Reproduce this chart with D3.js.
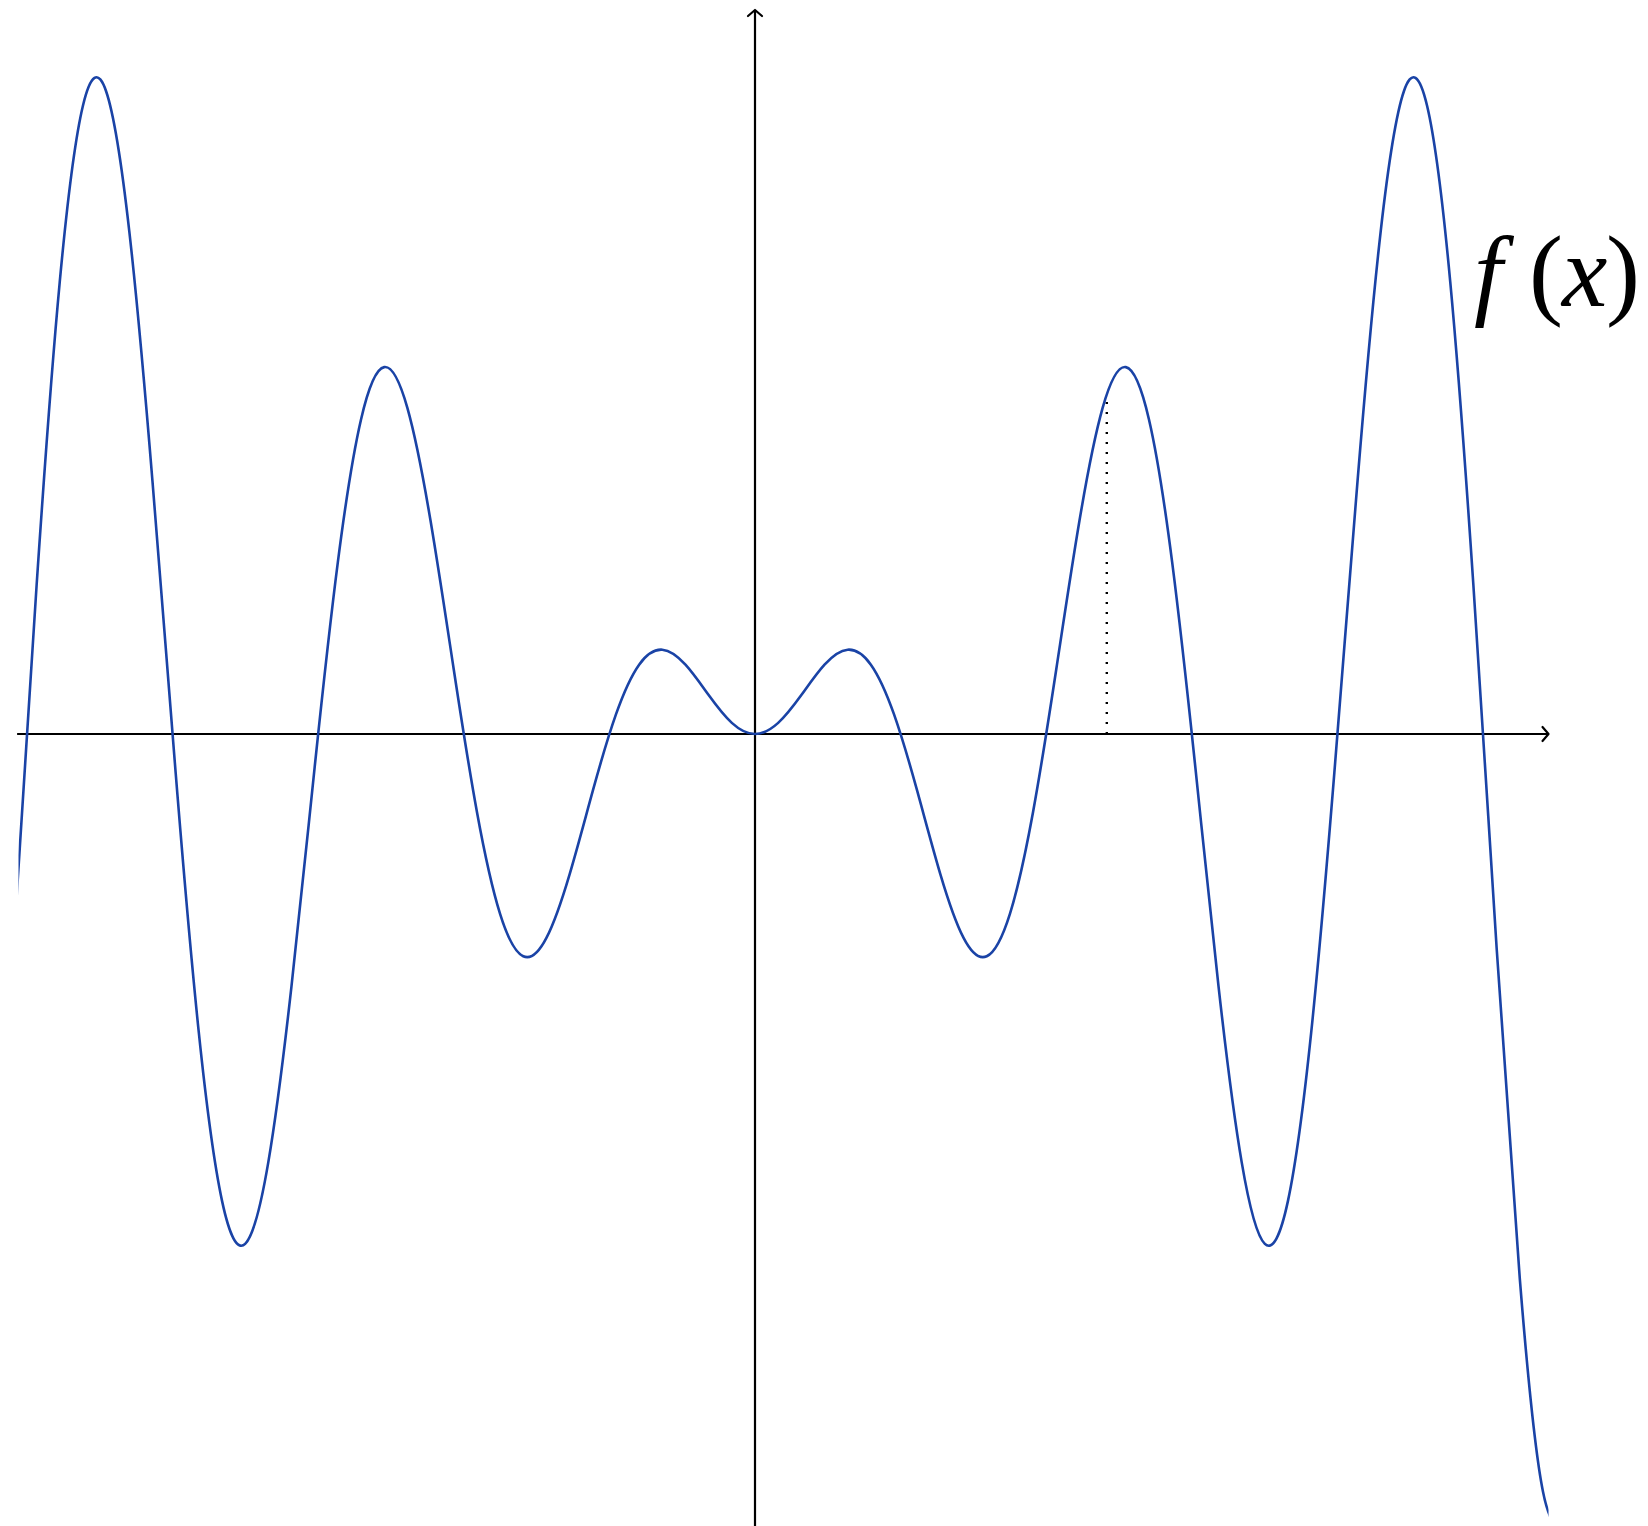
<!DOCTYPE html>
<html>
<head>
<meta charset="utf-8">
<script src="https://cdn.jsdelivr.net/npm/d3@7"></script>
<style>
  html, body { margin: 0; padding: 0; background: #fff; }
  svg { display: block; }
</style>
</head>
<body>
<div id="chart"></div>
<script>
// points (x, f(x)), every half unit
var xs = [-16, -15.5, -15, -14.5, -14, -13.5, -13, -12.5, -12, -11.5, -11, -10.5, -10, -9.5, -9, -8.5, -8, -7.5, -7, -6.5, -6, -5.5, -5, -4.5, -4, -3.5, -3, -2.5, -2, -1.5, -1, -0.5, 0,
          0.5, 1, 1.5, 2, 2.5, 3, 3.5, 4, 4.5, 5, 5.5, 6, 6.5, 7, 7.5, 8, 8.5, 9, 9.5, 10, 10.5, 11, 11.5, 12, 12.5, 13, 13.5, 14, 14.5, 15, 15.5, 16, 16.5, 17, 17.5];
var ys = [-4.606, 3.199, 9.754, 13.556, 13.868, 10.851, 5.463, -0.829, -6.439, -10.067, -11.0, -9.237, -5.44, -0.714, 3.709, 6.787, 7.915, 7.035, 4.599, 1.398, -1.676, -3.88, -4.795, -4.399, -3.027, -1.228, 0.423, 1.496, 1.819, 1.496, 0.841, 0.24, 0,
          0.24, 0.841, 1.496, 1.819, 1.496, 0.423, -1.228, -3.027, -4.399, -4.795, -3.88, -1.676, 1.398, 4.599, 7.035, 7.915, 6.787, 3.709, -0.714, -5.44, -9.237, -11.0, -10.067, -6.439, -0.829, 5.463, 10.851, 13.868, 13.556, 9.754, 3.199, -4.606, -11.745, -16.344, -17.075];
var xAxisRange = [-15.92, 17.12];
var curveRange = [-15.89, 17.12];
var yAxisRange = [-17.2, 15.62];
var markerX = 7.59, markerY = 7.33;
var label = ['f', '(', 'x', ')'];

var width = 1648, height = 1526;
var unit = 46.35;
var x = d3.scaleLinear().domain([0, 1]).range([755, 755 + unit]);
var y = d3.scaleLinear().domain([0, 1]).range([734, 734 - unit]);

var svg = d3.select('#chart').append('svg')
  .attr('width', width)
  .attr('height', height);

var defs = svg.append('defs');

// arrow head
defs.append('marker')
  .attr('id', 'arr')
  .attr('viewBox', '-10 -10 20 20')
  .attr('refX', 0).attr('refY', 0)
  .attr('markerWidth', 20).attr('markerHeight', 20)
  .attr('markerUnits', 'userSpaceOnUse')
  .attr('orient', 'auto')
  .append('path')
  .attr('d', 'M-6,-7 L0,0 L-6,7')
  .attr('fill', 'none')
  .attr('stroke', '#000')
  .attr('stroke-width', 2.2)
  .attr('stroke-linecap', 'round')
  .attr('stroke-linejoin', 'round');

// plot domain clip
defs.append('clipPath').attr('id', 'dom')
  .append('rect')
  .attr('x', x(curveRange[0])).attr('y', 0)
  .attr('width', x(curveRange[1]) - x(curveRange[0]))
  .attr('height', height);

// axes
svg.append('line')
  .attr('x1', x(xAxisRange[0])).attr('x2', x(xAxisRange[1]))
  .attr('y1', y(0)).attr('y2', y(0))
  .attr('stroke', '#000').attr('stroke-width', 2.2)
  .attr('marker-end', 'url(#arr)');
svg.append('line')
  .attr('x1', x(0)).attr('x2', x(0))
  .attr('y1', y(yAxisRange[0])).attr('y2', y(yAxisRange[1]))
  .attr('stroke', '#000').attr('stroke-width', 2.2)
  .attr('marker-end', 'url(#arr)');

// dotted marker
svg.append('line')
  .attr('x1', x(markerX)).attr('x2', x(markerX))
  .attr('y1', y(0)).attr('y2', y(markerY))
  .attr('stroke', '#000').attr('stroke-width', 2.4)
  .attr('stroke-dasharray', '2 8');

// curve
var line = d3.line()
  .x(function(d, i) { return x(xs[i]); })
  .y(function(d, i) { return y(ys[i]); })
  .curve(d3.curveNatural);

svg.append('path')
  .attr('d', line(xs))
  .attr('clip-path', 'url(#dom)')
  .attr('fill', 'none')
  .attr('stroke', '#1a43a6')
  .attr('stroke-width', 2.6);

// label
var t = svg.append('text')
  .attr('y', 306)
  .attr('font-family', '"Liberation Serif", "DejaVu Serif", serif')
  .attr('font-size', 102)
  .attr('fill', '#000');
var lx = [1474, 1529, 1562, 1606];
label.forEach(function(s, i) {
  t.append('tspan')
    .attr('x', lx[i])
    .attr('font-style', (s === 'f' || s === 'x') ? 'italic' : 'normal')
    .text(s);
});
</script>
</body>
</html>
